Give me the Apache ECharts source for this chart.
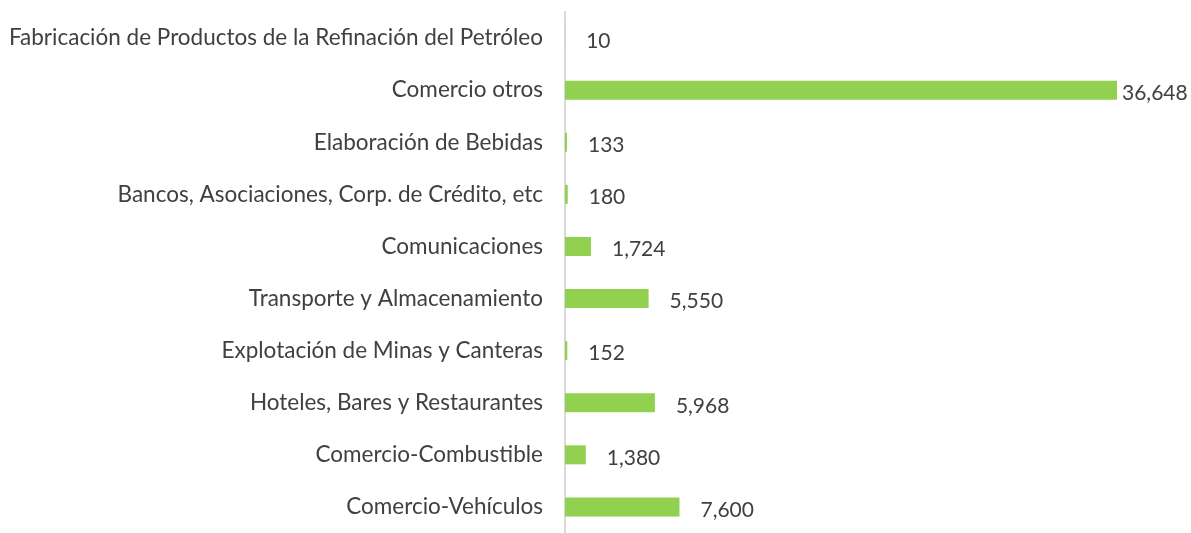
<!DOCTYPE html>
<html><head><meta charset="utf-8">
<script src="https://cdn.jsdelivr.net/npm/echarts@6/dist/echarts.min.js"></script>
<style>html,body{margin:0;padding:0;background:#fff}#c{width:1191px;height:533px}</style>
</head><body><div id="c"></div>
<script>
const categories = [
  "Fabricación de Productos de la Refinación del Petróleo",
  "Comercio otros",
  "Elaboración de Bebidas",
  "Bancos, Asociaciones, Corp. de Crédito, etc",
  "Comunicaciones",
  "Transporte y Almacenamiento",
  "Explotación de Minas y Canteras",
  "Hoteles, Bares y Restaurantes",
  "Comercio-Combustible",
  "Comercio-Vehículos"
];
const values = [10, 36648, 133, 180, 1724, 5550, 152, 5968, 1380, 7600];

const FONT = 'Lato, "Open Sans", sans-serif';
const chart = echarts.init(document.getElementById('c'));
const maxVal = Math.max(...values);
chart.setOption({
  animation: false,
  grid: {left: 565, width: 602.5, top: 12, height: 528, containLabel: false},
  xAxis: {type: 'value', min: 0, max: 40000, show: false},
  yAxis: {
    type: 'category', data: categories, inverse: true,
    axisLine: {show: true, lineStyle: {color: '#D9D9D9', width: 2}},
    axisTick: {show: false},
    axisLabel: {color: '#404040', fontSize: 22.5, fontFamily: FONT, margin: 22, padding: [5, 0, 0, 0]}
  },
  series: [{
    type: 'bar',
    data: values.map(v => ({
      value: v,
      label: {distance: v === maxVal ? 5 : 21}
    })),
    barWidth: 19,
    itemStyle: {color: '#92D050'},
    label: {
      show: true, position: 'right', color: '#404040', fontSize: 21, fontFamily: FONT,
      formatter: p => p.value.toLocaleString('en-US'), offset: [0, 3]
    }
  }]
});
</script></body></html>
